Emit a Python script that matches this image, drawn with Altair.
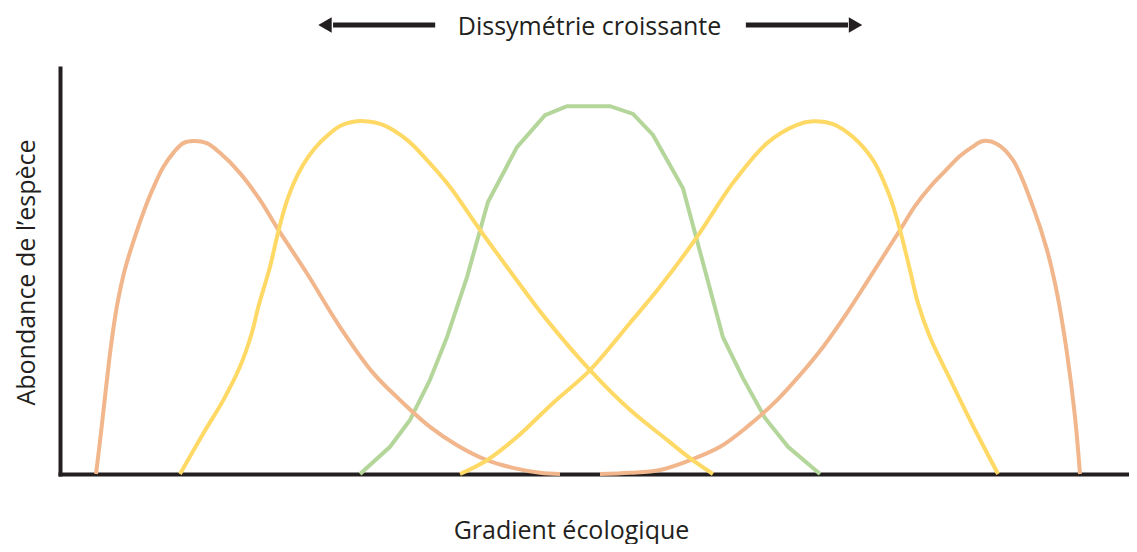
import altair as alt
import pandas as pd

# ---- curve values (gradient position, abundance 0-100) ----
orange1_x = [3.35, 3.81, 4.28, 4.74, 5.30, 6.05, 7.07, 8.19, 9.00, 9.61, 10.54, 11.47, 12.40, 13.65, 14.88,
             16.74, 18.60, 20.16, 22.95, 26.05, 29.12, 31.63, 34.42, 36.93, 39.72, 42.14, 44.65, 46.51]
orange1_y = [0, 10.1, 21.2, 31.5, 41.4, 50.5, 59.2, 67.4, 72.4, 75.6, 79.1, 81.5, 82.0, 81.5, 79.1,
             74.1, 67.5, 60.8, 49.5, 36.2, 24.9, 18.2, 11.6, 7.1, 3.4, 1.5, 0.3, 0]

yellow1_x = [11.16, 13.33, 15.19, 16.74, 17.83, 18.45, 19.53, 20.28, 20.93, 21.67, 22.60, 23.72, 24.93, 26.05,
             27.16, 28.37, 30.05, 32.28, 34.14, 36.28, 39.07, 41.58, 45.30, 49.30, 53.02, 56.47, 58.60, 60.74]
yellow1_y = [0, 10.0, 18.2, 26.4, 34.6, 41.2, 51.0, 59.4, 65.8, 71.2, 76.1, 80.3, 83.5, 85.7,
             86.7, 86.9, 86.0, 82.3, 77.3, 70.7, 60.1, 51.0, 37.9, 25.6, 15.8, 8.4, 3.9, 0]

green_x = [27.91, 30.70, 32.56, 34.42, 36.00, 37.86, 39.81, 42.51, 45.12, 47.16, 51.16, 53.30, 55.16, 57.95,
           61.67, 63.53, 65.58, 67.72, 70.70]
green_y = [0, 6.7, 13.3, 23.2, 33.7, 48.5, 67.0, 80.5, 88.4, 90.6, 90.6, 88.7, 83.5, 70.4,
           33.7, 23.6, 13.8, 6.7, 0]

yellow2_x = [37.21, 39.72, 42.51, 45.86, 49.30, 53.02, 55.81, 59.26, 62.60, 65.77, 68.56, 70.05, 71.91, 73.77,
             75.63, 77.21, 78.14, 79.07, 79.81, 80.93, 82.51, 84.65, 87.26]
yellow2_y = [0, 3.4, 9.1, 17.5, 25.6, 37.2, 46.1, 58.4, 71.7, 81.5, 86.0, 86.9, 86.2, 83.0,
             77.3, 68.2, 60.1, 50.2, 42.1, 33.7, 24.9, 13.3, 0]

orange2_x = [50.23, 53.02, 55.81, 58.60, 61.40, 63.91, 66.70, 68.84, 70.98, 73.21, 75.35, 78.14, 79.53, 80.93,
             82.33, 83.72, 84.84, 85.86, 87.16, 88.65, 90.51, 91.81, 92.74, 93.67, 94.42, 94.88]
orange2_y = [0, 0.3, 1.0, 3.4, 6.7, 11.6, 18.2, 24.4, 31.3, 39.7, 48.5, 60.1, 66.0, 70.7,
             74.6, 78.3, 80.5, 82.0, 81.3, 77.3, 65.8, 55.2, 44.6, 29.8, 14.0, 0]

# ---- annotation (title with arrows) in chart units ----
title_text = ["Dissymétrie croissante"]
title_x = [49.26]
title_y = [108.1]
arrow_start = [25.4, 63.8]
arrow_end = [34.9, 73.3]
arrow_y = [110.6, 110.6]
head_left_x = [24.65]
head_right_x = [74.0]

ORANGE = "#F1B68B"
YELLOW = "#FFD966"
GREEN = "#B5D69B"
INK = "#231F20"
FONT = "Open Sans"
FS = 25

xs = alt.Scale(domain=[0, 99.44], nice=False, zero=False)
ys = alt.Scale(domain=[0, 100], nice=False, zero=False)

x_axis = alt.Axis(domain=True, domainColor=INK, domainWidth=4, domainCap="square",
                  ticks=False, labels=False, grid=False,
                  title="Gradient écologique", titleFont=FONT, titleFontSize=FS,
                  titleFontWeight="normal", titleColor=INK,
                  titleX=511, titleY=64, titleAlign="center", titleBaseline="alphabetic",
                  titleAnchor="start")
y_axis = alt.Axis(domain=True, domainColor=INK, domainWidth=4, domainCap="square",
                  ticks=False, labels=False, grid=False,
                  title="Abondance de l’espèce", titleFont=FONT, titleFontSize=FS,
                  titleFontWeight="normal", titleColor=INK, titleAngle=270,
                  titleX=-26, titleY=204, titleAlign="center", titleBaseline="alphabetic",
                  titleAnchor="start")


def curve(xv, yv, color, interp):
    df = pd.DataFrame({"x": xv, "y": yv})
    return alt.Chart(df).mark_line(color=color, strokeWidth=4, interpolate=interp).encode(
        x=alt.X("x:Q", scale=xs, axis=x_axis),
        y=alt.Y("y:Q", scale=ys, axis=y_axis),
    )


layers = [
    curve(green_x, green_y, GREEN, "linear"),
    curve(orange1_x, orange1_y, ORANGE, "catmull-rom"),
    curve(orange2_x, orange2_y, ORANGE, "catmull-rom"),
    curve(yellow1_x, yellow1_y, YELLOW, "catmull-rom"),
    curve(yellow2_x, yellow2_y, YELLOW, "catmull-rom"),
]

title_df = pd.DataFrame({"x": title_x, "y": title_y, "t": title_text})
title_layer = alt.Chart(title_df).mark_text(font=FONT, fontSize=FS, color=INK, align="center",
                                            baseline="alphabetic").encode(
    x=alt.X("x:Q", scale=xs, axis=x_axis), y=alt.Y("y:Q", scale=ys, axis=y_axis), text="t:N")

arrow_df = pd.DataFrame({"x": arrow_start, "x2": arrow_end, "y": arrow_y})
arrow_lines = alt.Chart(arrow_df).mark_rule(color=INK, strokeWidth=5).encode(
    x=alt.X("x:Q", scale=xs, axis=x_axis), x2="x2:Q", y=alt.Y("y:Q", scale=ys, axis=y_axis))

hl_df = pd.DataFrame({"x": head_left_x, "y": [arrow_y[0]]})
hr_df = pd.DataFrame({"x": head_right_x, "y": [arrow_y[1]]})
head_left = alt.Chart(hl_df).mark_point(shape="triangle-left", filled=True, size=240, color=INK, opacity=1).encode(
    x=alt.X("x:Q", scale=xs, axis=x_axis), y=alt.Y("y:Q", scale=ys, axis=y_axis))
head_right = alt.Chart(hr_df).mark_point(shape="triangle-right", filled=True, size=240, color=INK, opacity=1).encode(
    x=alt.X("x:Q", scale=xs, axis=x_axis), y=alt.Y("y:Q", scale=ys, axis=y_axis))

chart = alt.layer(*layers, title_layer, arrow_lines, head_left, head_right).properties(
    width=1069, height=406,
    autosize=alt.AutoSizeParams(type="none"),
    padding={"left": 52, "top": 60, "right": 0, "bottom": 70},
    background="white",
).configure_view(strokeOpacity=0)

chart.save("out.html", embed_options={"renderer": "svg", "actions": False})
